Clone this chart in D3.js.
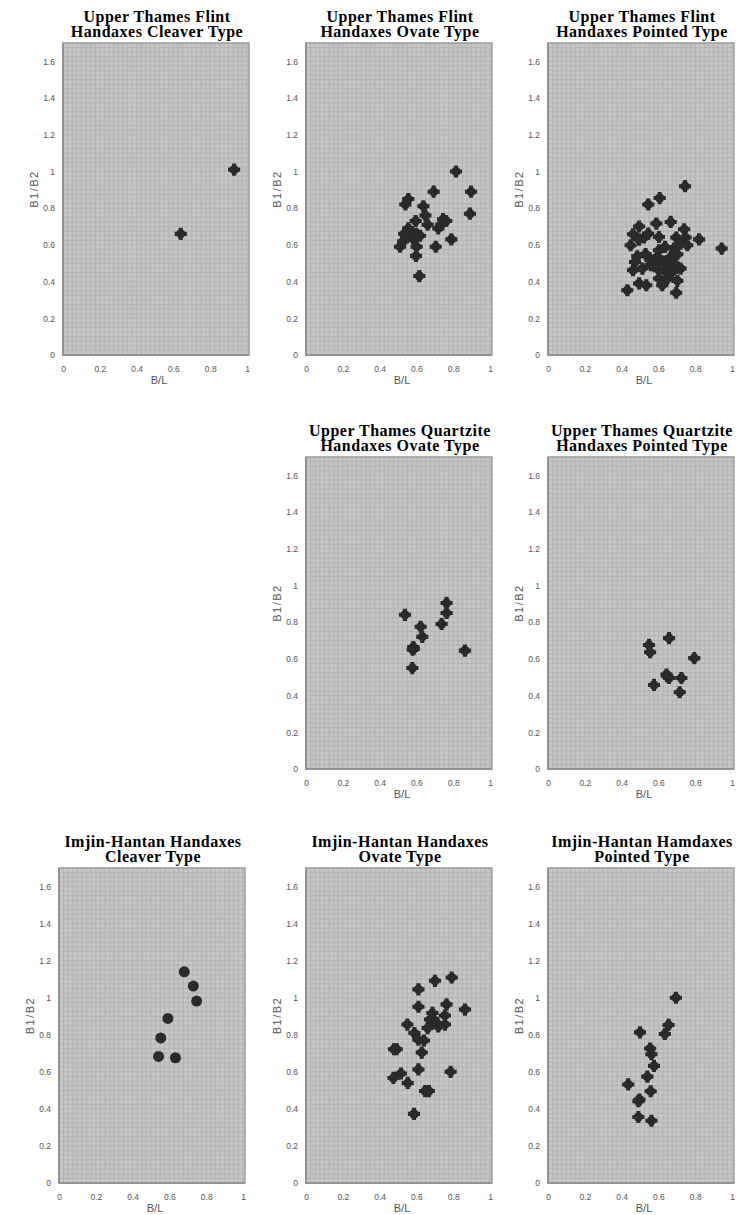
<!DOCTYPE html>
<html>
<head>
<meta charset="utf-8">
<script src="https://cdn.jsdelivr.net/npm/d3@7"></script>
<style>
  html, body { margin: 0; padding: 0; background: #ffffff; }
  svg { display: block; }
</style>
</head>
<body>
<svg id="chart" width="738" height="1215"></svg>
<script>
// B/L (x) against B1/B2 (y) for each handaxe group, as [x, y] pairs.
const flintCleaver = [[0.93, 1.01], [0.64, 0.66]];

const flintOvate = [
  [0.815, 1.00], [0.694, 0.89], [0.897, 0.89], [0.891, 0.77], [0.556, 0.85],
  [0.540, 0.82], [0.638, 0.81], [0.649, 0.76], [0.661, 0.71], [0.596, 0.73],
  [0.719, 0.69], [0.735, 0.71], [0.762, 0.73], [0.745, 0.74], [0.790, 0.63],
  [0.705, 0.59], [0.616, 0.43], [0.511, 0.59], [0.534, 0.66], [0.556, 0.69],
  [0.575, 0.67], [0.600, 0.66], [0.601, 0.59], [0.598, 0.54], [0.585, 0.63],
  [0.545, 0.64], [0.528, 0.62], [0.620, 0.65]
];

const flintPointed = [
  [0.745, 0.92], [0.607, 0.855], [0.545, 0.82], [0.821, 0.63], [0.944, 0.58],
  [0.431, 0.353], [0.697, 0.339], [0.495, 0.70], [0.589, 0.716], [0.667, 0.725],
  [0.740, 0.685], [0.462, 0.658], [0.545, 0.661], [0.522, 0.64], [0.603, 0.643],
  [0.697, 0.64], [0.748, 0.64], [0.721, 0.607], [0.757, 0.598], [0.449, 0.598],
  [0.495, 0.629], [0.636, 0.589], [0.685, 0.58], [0.603, 0.571], [0.473, 0.507],
  [0.462, 0.462], [0.513, 0.471], [0.558, 0.516], [0.594, 0.534], [0.630, 0.507],
  [0.667, 0.534], [0.703, 0.549], [0.685, 0.498], [0.576, 0.489], [0.603, 0.462],
  [0.640, 0.453], [0.676, 0.453], [0.721, 0.471], [0.603, 0.417], [0.649, 0.417],
  [0.703, 0.404], [0.495, 0.39], [0.534, 0.38], [0.621, 0.38], [0.485, 0.538],
  [0.530, 0.55], [0.560, 0.49], [0.660, 0.48]
];

const quartziteOvate = [
  [0.538, 0.84], [0.764, 0.905], [0.764, 0.85], [0.737, 0.79], [0.623, 0.775],
  [0.632, 0.72], [0.583, 0.665], [0.580, 0.65], [0.586, 0.655], [0.864, 0.645],
  [0.578, 0.55]
];

const quartzitePointed = [
  [0.658, 0.713], [0.549, 0.676], [0.555, 0.636], [0.795, 0.604], [0.644, 0.515],
  [0.658, 0.496], [0.648, 0.505], [0.725, 0.496], [0.576, 0.458], [0.716, 0.418]
];

const imjinCleaver = [
  [0.681, 1.14], [0.730, 1.063], [0.748, 0.982], [0.592, 0.888], [0.553, 0.783],
  [0.541, 0.683], [0.633, 0.676]
];

const imjinOvate = [
  [0.792, 1.109], [0.701, 1.091], [0.611, 1.045], [0.611, 0.951], [0.764, 0.964],
  [0.864, 0.936], [0.551, 0.855], [0.687, 0.918], [0.674, 0.882], [0.692, 0.882],
  [0.710, 0.864], [0.755, 0.904], [0.661, 0.836], [0.719, 0.845], [0.755, 0.855],
  [0.589, 0.809], [0.611, 0.773], [0.641, 0.769], [0.629, 0.704], [0.478, 0.722],
  [0.493, 0.722], [0.611, 0.613], [0.786, 0.600], [0.516, 0.591], [0.475, 0.567],
  [0.553, 0.540], [0.647, 0.496], [0.668, 0.496], [0.587, 0.373]
];

const imjinPointed = [
  [0.695, 1.00], [0.655, 0.853], [0.635, 0.804], [0.500, 0.813], [0.555, 0.726],
  [0.562, 0.695], [0.576, 0.632], [0.540, 0.574], [0.436, 0.532], [0.558, 0.495],
  [0.491, 0.441], [0.497, 0.450], [0.491, 0.356], [0.562, 0.336]
];

const xTicks = [0, 0.2, 0.4, 0.6, 0.8, 1];
const yTicks = [0, 0.2, 0.4, 0.6, 0.8, 1, 1.2, 1.4, 1.6];
const xTitle = "B/L";
const yTitle = "B1/B2";

// Panel list: title lines, data, grid row/column and marker style.
const panels = [
  { title: ["Upper Thames Flint", "Handaxes Cleaver Type"], data: flintCleaver, row: 0, col: 0, mark: "cross" },
  { title: ["Upper Thames Flint", "Handaxes Ovate Type"], data: flintOvate, row: 0, col: 1, mark: "cross" },
  { title: ["Upper Thames Flint", "Handaxes Pointed Type"], data: flintPointed, row: 0, col: 2, mark: "cross" },
  { title: ["Upper Thames Quartzite", "Handaxes Ovate Type"], data: quartziteOvate, row: 1, col: 1, mark: "cross" },
  { title: ["Upper Thames Quartzite", "Handaxes Pointed Type"], data: quartzitePointed, row: 1, col: 2, mark: "cross" },
  { title: ["Imjin-Hantan Handaxes", "Cleaver Type"], data: imjinCleaver, row: 2, col: 0, mark: "circle" },
  { title: ["Imjin-Hantan Handaxes", "Ovate Type"], data: imjinOvate, row: 2, col: 1, mark: "cross" },
  { title: ["Imjin-Hantan Hamdaxes", "Pointed Type"], data: imjinPointed, row: 2, col: 2, mark: "cross" }
];

// Layout
const rowTop = [43, 457, 868];
const rowBottom = [355, 769, 1183];
const colLeft = [[63, 306, 548], [63, 306, 548], [59, 306, 548]];
const plotW = 186;
const innerW = 184;

const svg = d3.select("#chart");
const fmt = v => (v === 0 ? "0" : v === 1 ? "1" : d3.format(".1f")(v));

panels.forEach(p => {
  const left = colLeft[p.row][p.col];
  const top = rowTop[p.row];
  const bottom = rowBottom[p.row];

  const x = d3.scaleLinear().domain([0, 1]).range([left, left + innerW]);
  const y = d3.scaleLinear().domain([0, 1.7]).range([bottom, top]);

  const g = svg.append("g");

  // plot background
  g.append("rect")
    .attr("x", left).attr("y", top)
    .attr("width", plotW).attr("height", bottom - top)
    .attr("fill", "#c6c6c6");

  // fine grid every 0.025
  const gx = d3.range(0, 1.0001, 0.025);
  const gy = d3.range(0, 1.7001, 0.025);
  g.append("g").selectAll("line").data(gx).join("line")
    .attr("x1", d => x(d)).attr("x2", d => x(d))
    .attr("y1", top).attr("y2", bottom)
    .attr("stroke", "#b0b0b0").attr("stroke-width", 0.8);
  g.append("g").selectAll("line").data(gy).join("line")
    .attr("x1", left).attr("x2", left + plotW)
    .attr("y1", d => y(d)).attr("y2", d => y(d))
    .attr("stroke", "#b0b0b0").attr("stroke-width", 0.8);

  // frame
  g.append("rect")
    .attr("x", left).attr("y", top)
    .attr("width", plotW).attr("height", bottom - top)
    .attr("fill", "none").attr("stroke", "#a0a0a0").attr("stroke-width", 1.5);
  g.append("path")
    .attr("d", `M${left},${top}V${bottom}H${left + plotW}`)
    .attr("fill", "none").attr("stroke", "#8a8a8a").attr("stroke-width", 1.5);

  // x axis labels
  const xAxis = d3.axisBottom(x).tickValues(xTicks).tickFormat(fmt).tickSize(0).tickPadding(11);
  const xa = g.append("g").attr("transform", `translate(0,${bottom})`).call(xAxis);
  xa.select(".domain").remove();
  xa.selectAll("text").attr("font-family", "Liberation Sans, Arial, sans-serif")
    .attr("font-size", 8.5).attr("fill", "#555");

  // y axis labels
  const yAxis = d3.axisLeft(y).tickValues(yTicks).tickFormat(fmt).tickSize(0).tickPadding(8);
  const ya = g.append("g").attr("transform", `translate(${left},0)`).call(yAxis);
  ya.select(".domain").remove();
  ya.selectAll("text").attr("font-family", "Liberation Sans, Arial, sans-serif")
    .attr("font-size", 8.5).attr("fill", "#555");

  // axis titles
  g.append("text")
    .attr("x", left + plotW / 2 + 3).attr("y", bottom + 29)
    .attr("text-anchor", "middle")
    .attr("font-family", "Liberation Sans, Arial, sans-serif")
    .attr("font-size", 11).attr("fill", "#555")
    .text(xTitle);
  g.append("text")
    .attr("transform", `translate(${left - 25},${(top + bottom) / 2 - 10}) rotate(-90)`)
    .attr("text-anchor", "middle")
    .attr("font-family", "Liberation Sans, Arial, sans-serif")
    .attr("font-size", 11).attr("letter-spacing", 1.5).attr("fill", "#555")
    .text(yTitle);

  // title
  const t = g.append("text")
    .attr("text-anchor", "middle")
    .attr("font-family", "Liberation Serif, 'Times New Roman', serif")
    .attr("font-weight", "bold").attr("font-size", 16).attr("letter-spacing", 0.5)
    .attr("fill", "#000");
  p.title.forEach((line, i) => {
    t.append("tspan")
      .attr("x", left + plotW / 2 + 1)
      .attr("y", top - 21 + i * 15)
      .text(line);
  });

  // points
  const marks = g.append("g").attr("fill", "#2a2a2a");
  if (p.mark === "circle") {
    marks.selectAll("circle").data(p.data).join("circle")
      .attr("cx", d => x(d[0])).attr("cy", d => y(d[1])).attr("r", 5.5);
  } else {
    const cross = d3.symbol().type(d3.symbolCross).size(82);
    marks.selectAll("g").data(p.data).join("g")
      .attr("transform", d => `translate(${x(d[0])},${y(d[1])})`)
      .each(function () {
        d3.select(this).append("circle").attr("r", 4.6);
        d3.select(this).append("path").attr("d", cross());
      });
  }
});
</script>
</body>
</html>
